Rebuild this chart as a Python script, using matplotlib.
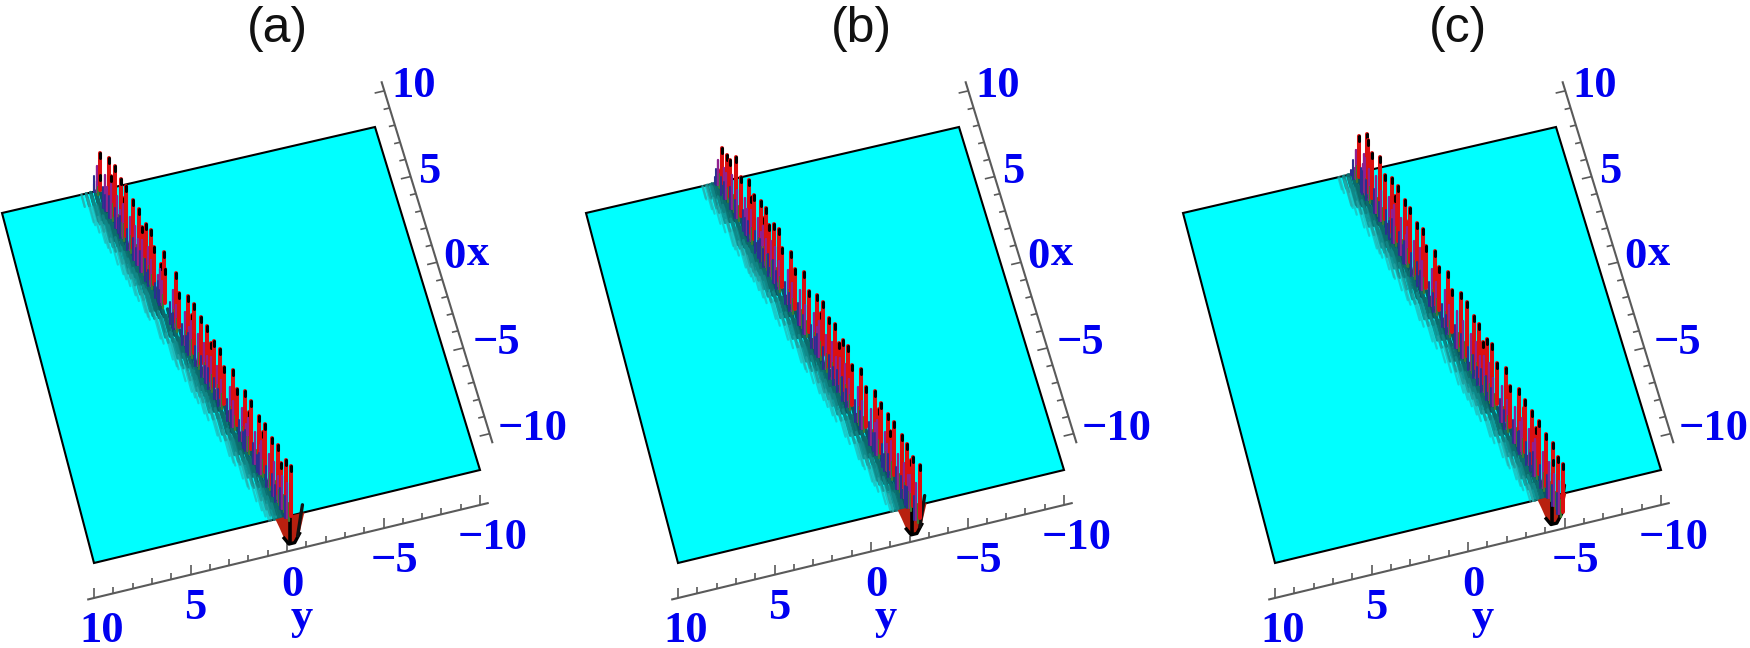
import numpy as np
import matplotlib
matplotlib.use("Agg")
import matplotlib.pyplot as plt

panel_titles = ["(a)", "(b)", "(c)"]
x_ticks = [10, 5, 0, -5, -10]
y_ticks = [10, 5, 0, -5, -10]
tick_labels = ["10", "5", "0", "\u22125", "\u221210"]

# ridge centre line y = offset + slope * x
ridge_offset = [2.27, 0.29, -1.865]
ridge_slope = [0.247, 0.247, 0.2535]

# peaks along the ridge
a_x = [10.0, 10.0, 9.06, 8.43, 8.88, 7.8, 7.2, 7.49, 6.47, 5.88, 5.57, 5.15, 4.59, 4.24, 3.27, 3.54,
       3.09, 1.94, 1.62, 0.65, 0.05, 0.23, -0.68, -1.34, -1.69, -2.04, -2.67, -3.09, -4.03, -4.38,
       -5.29, -5.88, -5.7, -6.68, -7.31, -7.17, -8.08, -8.64, -9.02, -9.47, -10.0]
a_z = [37, 15, 48, 50, 33, 47, 50, 33, 48, 49, 36, 46, 49, 37, 48, 32,
       34, 49, 34, 47, 49, 35, 47, 49, 38, 46, 48, 37, 49, 36,
       48, 48, 34, 46, 48, 38, 47, 49, 37, 47, 50]
b_x = [9.93, 10.0, 9.34, 9.06, 8.44, 7.92, 7.08, 6.87, 6.49, 5.76, 5.21, 5.42, 4.9, 4.37, 3.92, 3.57,
       2.6, 2.18, 1.32, 0.8, -0.08, -0.66, -0.49, -1.36, -1.98, -2.4, -2.82, -3.34, -3.72, -4.66,
       -5.11, -6.05, -6.67, -6.46, -7.43, -8.06, -7.68, -8.83, -9.38, -9.8, -10.0, -10.7]
b_z = [35, 12, 38, 37, 50, 39, 49, 36, 44, 50, 52, 38, 40, 50, 52, 39,
       50, 40, 51, 41, 51, 53, 39, 49, 53, 40, 50, 53, 40, 51,
       40, 52, 50, 40, 51, 53, 38, 52, 52, 43, 49, 53]
c_x = [9.77, 10.0, 8.95, 8.85, 9.01, 8.44, 7.65, 7.14, 6.36, 5.79, 6.05, 5.07, 4.49, 4.59, 3.78, 3.17,
       2.89, 1.94, 1.53, 0.62, 0.18, -0.68, -1.29, -2.04, -2.55, -2.98, -3.39, -3.9, -4.31, -5.27,
       -5.68, -6.55, -7.24, -7.06, -7.92, -8.6, -8.33, -9.35, -9.96, -10.0, -10.5, -11.0]
c_z = [41, 8, 56, 52, 39, 45, 54, 44, 54, 55, 41, 53, 54, 40, 51, 55,
       42, 53, 43, 53, 42, 53, 54, 52, 52, 41, 51, 54, 41, 52,
       41, 52, 52, 41, 52, 53, 41, 52, 52, 36, 47, 48]
peaks_x = [a_x, b_x, c_x]
peaks_z = [a_z, b_z, c_z]

# trough below the front edge of the plate
trough_dy = [0.8, 0.6, 0.35, 0.1, -0.2, -0.45, -0.7]
trough_z = [0, -9, -21, -28, -28, -20, 0]

panel_shift = [0, 584, 1181]

# screen position of the plate corners, panel (a)
corner_tl = np.array([2.0, 213.0])    # x=10, y=10
corner_tr = np.array([375.0, 127.0])  # x=10, y=-10
corner_br = np.array([480.0, 470.0])  # x=-10, y=-10
corner_bl = np.array([94.0, 563.0])   # x=-10, y=10


def project(x, y, z=0.0, shift=0):
    u = (10.0 - x) / 20.0
    v = (10.0 - y) / 20.0
    p = (1 - u) * (1 - v) * corner_tl + (1 - u) * v * corner_tr + u * v * corner_br + u * (1 - v) * corner_bl
    return p[0] + shift, p[1] - z


def seg(ax, p0, p1, color, lw, zorder, alpha=1.0, cap="round"):
    ax.plot([p0[0], p1[0]], [p0[1], p1[1]], color=color, lw=lw, zorder=zorder, alpha=alpha,
            solid_capstyle=cap)


def draw_ridge(ax, idx, shift):
    off, slope = ridge_offset[idx], ridge_slope[idx]
    order = np.argsort(-np.array(peaks_x[idx]))
    xs = np.array(peaks_x[idx])[order]
    zs = np.array(peaks_z[idx])[order]

    # dark streaks on the low side of the ridge
    for x in xs:
        x0 = max(x, -9.9)
        yr = off + slope * x0
        for d, col, a, lw in [(1.0, "#2aa8a8", 0.6, 1.6), (0.75, "#128888", 0.85, 2.0),
                              (0.5, "#0c6c6c", 0.95, 2.4), (0.25, "#0a5560", 1.0, 2.6)]:
            seg(ax, project(min(x0 + 0.8, 10), yr + d, 0, shift), project(max(x0 - 0.7, -10), yr + d, 0, shift),
                col, lw, 3, a)

    # trough
    yr = off - slope * 10
    pts = [project(-10, yr + d, z, shift) for d, z in zip(trough_dy, trough_z)]
    ax.fill([p[0] for p in pts], [p[1] for p in pts], color="#b8200f", lw=0, zorder=4)
    ax.plot([p[0] for p in pts[2:6]], [p[1] for p in pts[2:6]], color="black", lw=2.4, zorder=5)
    seg(ax, project(-10, yr + 0.05, -26, shift), project(-10, yr + 0.05, 4, shift), "black", 2.6, 5)
    seg(ax, project(-10, yr - 0.35, -22, shift), project(-10, yr - 0.6, 8, shift), "#111111", 2.4, 5)

    # peaks, back to front
    for i, (x, z) in enumerate(zip(xs, zs)):
        y = off + slope * x
        zo = 6 + i * 0.01
        foot = project(x, y, 0, shift)
        top = project(x, y, z, shift)
        seg(ax, (foot[0] - 6, foot[1] + 2), (top[0] - 6, top[1] + z * 0.6), "#2a2f90", 1.5, zo)
        seg(ax, (foot[0] - 3.5, foot[1] + 2), (top[0] - 3.5, top[1] + z * 0.35), "#8f2090", 1.7, zo)
        seg(ax, (foot[0] - 2, foot[1] + 5), (foot[0] - 2, foot[1] - z * 0.25), "#3c7a30", 1.6, zo)
        seg(ax, foot, top, "#dc0f10", 2.9, zo)
        seg(ax, (top[0], top[1] + 5), top, "black", 2.2, zo)


def draw_panel(ax, idx):
    shift = panel_shift[idx]

    # plate
    corners = [corner_tl, corner_tr, corner_br, corner_bl]
    ax.fill([c[0] + shift for c in corners], [c[1] for c in corners], facecolor="#00ffff", edgecolor="black",
            lw=1.5, zorder=2, joinstyle="miter")

    # x axis on the right
    line_x = [project(10.5, -10.5, 34, shift), project(-10.5, -10.5, 34, shift)]
    ax.plot([p[0] for p in line_x], [p[1] for p in line_x], color="#5a5a5a", lw=1.5, zorder=2)
    for v in range(-10, 11):
        dy = 0.52 if v % 5 == 0 else 0.32
        seg(ax, project(v, -10.5, 34, shift), project(v, -10.5 + dy, 34, shift), "#5a5a5a", 1.2, 2, cap="butt")

    # y axis at the front
    line_y = [project(-10, 10.3, -35, shift), project(-10, -10.4, -35, shift)]
    ax.plot([p[0] for p in line_y], [p[1] for p in line_y], color="#5a5a5a", lw=1.5, zorder=2)
    for v in range(-10, 11):
        dz = 10 if v % 5 == 0 else 6
        seg(ax, project(-10, v, -35, shift), project(-10, v, -35 + dz, shift), "#5a5a5a", 1.2, 2, cap="butt")

    label_font = dict(family="Liberation Serif", weight="bold", color="#0000f0", fontsize=32, zorder=8)
    left_nudge = [7, 7, 6, 9, 8]
    for v, lab, n in zip(x_ticks, tick_labels, left_nudge):
        p = project(v, -10.5, 34, shift)
        ax.text(p[0] + n, p[1] - 5, lab, ha="left", va="center", **label_font)
    y_nudge = [8, 5, 5, 11, 13]
    for v, lab, n in zip(y_ticks, tick_labels, y_nudge):
        p = project(-10, v, -35, shift)
        ax.text(p[0] + n, p[1] + 33, lab, ha="center", va="center", **label_font)
    p0 = project(0, -10.5, 34, shift)
    ax.text(p0[0] + 41, p0[1] - 8, "x", ha="center", va="center", **label_font)
    p1 = project(-10, 0, -35, shift)
    ax.text(p1[0] + 15, p1[1] + 66, "y", ha="center", va="center", **label_font)

    draw_ridge(ax, idx, shift)

    ax.text(277 + shift, 29, panel_titles[idx], ha="center", va="center", family="Liberation Sans",
            fontsize=36, color="#111111")


def main():
    fig = plt.figure(figsize=(17.5, 6.48), dpi=100)
    ax = fig.add_axes([0, 0, 1, 1])
    ax.set_xlim(0, 1750)
    ax.set_ylim(648, 0)
    ax.axis("off")
    for idx in range(3):
        draw_panel(ax, idx)
    fig.savefig("out.png", dpi=100)
    plt.close(fig)


if __name__ == "__main__":
    main()
